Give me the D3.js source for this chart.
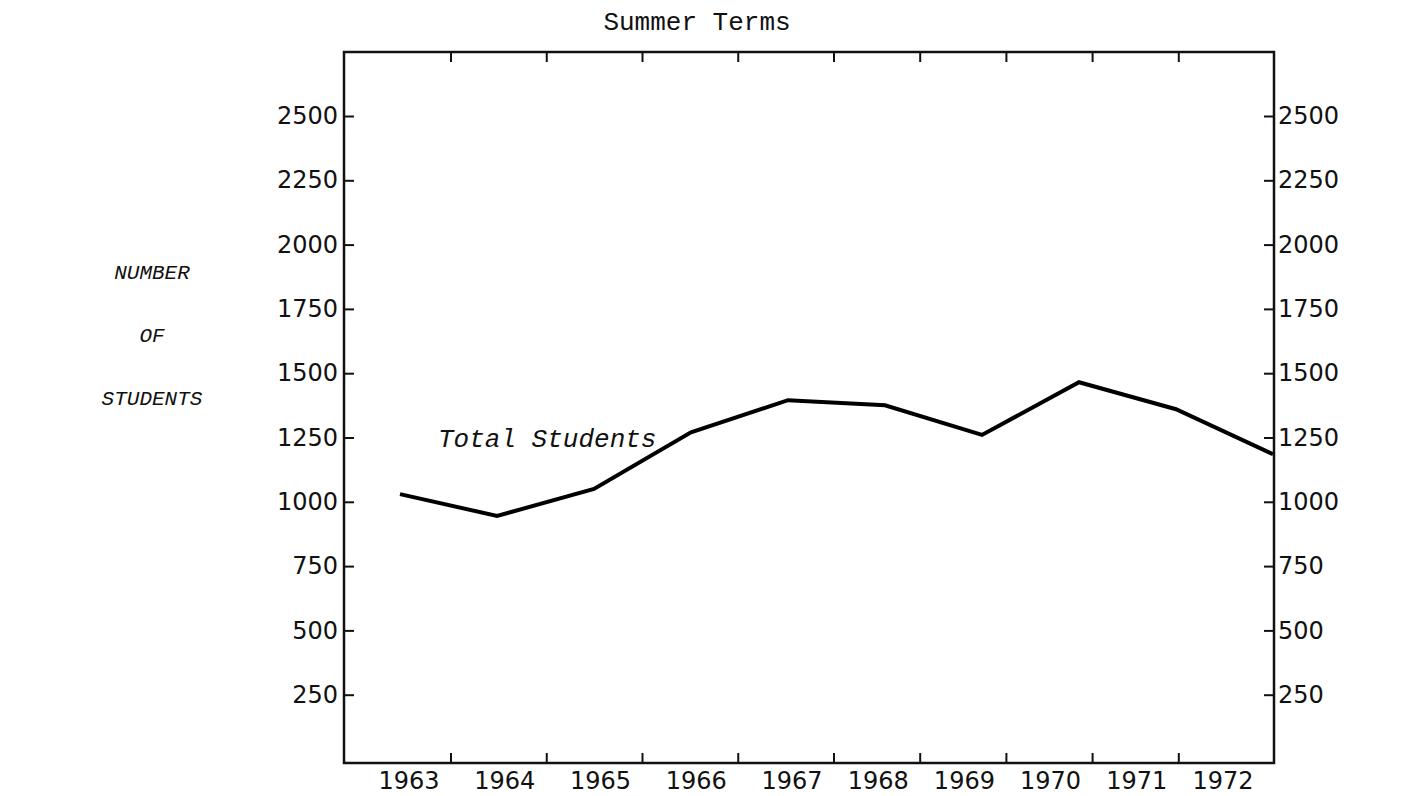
<!DOCTYPE html>
<html>
<head>
<meta charset="utf-8">
<script src="https://cdn.jsdelivr.net/npm/d3@7"></script>
<style>
  html, body { margin: 0; padding: 0; background: #fff; }
  svg { display: block; }
  .tick-label { font-family: "DejaVu Sans", sans-serif; font-size: 24px; fill: #111; }
  .mono { font-family: "Liberation Mono", "DejaVu Sans Mono", monospace; fill: #111; }
</style>
</head>
<body>
<svg id="chart" width="1419" height="796"></svg>
<script>
// ---- data ----
const years = [1963, 1964, 1965, 1966, 1967, 1968, 1969, 1970, 1971, 1972];
const totalStudents = [1030, 945, 1050, 1270, 1395, 1375, 1260, 1465, 1360, 1185];
const yTickValues = [250, 500, 750, 1000, 1250, 1500, 1750, 2000, 2250, 2500];
const yAxisLabel = ["NUMBER", "OF", "STUDENTS"];
const title = "Summer Terms";
const seriesLabel = "Total Students";

// ---- layout ----
const frame = { left: 344, right: 1274, top: 52, bottom: 763 };
const svg = d3.select("#chart");

// typed year labels are a little uneven, so a piecewise scale for them;
// the plotted line runs evenly across the frame
const xLabel = d3.scaleLinear().domain([1963, 1967, 1972]).range([409, 792, 1223]);
const xLine = d3.scaleLinear().domain([1963, 1972]).range([400, 1273]);
const y = d3.scaleLinear().domain([0, 2500]).range([759, 116]);
const tickOffset = 42;

// frame
svg.append("rect")
    .attr("x", frame.left).attr("y", frame.top)
    .attr("width", frame.right - frame.left)
    .attr("height", frame.bottom - frame.top)
    .attr("fill", "none")
    .attr("stroke", "#111")
    .attr("stroke-width", 2.5);

// left / right value axes, ticks pointing inward
const fmt = d3.format("d");
const leftAxis = svg.append("g")
    .attr("transform", `translate(${frame.left},0)`)
    .call(d3.axisLeft(y).tickValues(yTickValues).tickFormat(fmt).tickSize(-10).tickPadding(6));
const rightAxis = svg.append("g")
    .attr("transform", `translate(${frame.right},0)`)
    .call(d3.axisRight(y).tickValues(yTickValues).tickFormat(fmt).tickSize(-10).tickPadding(4));

[leftAxis, rightAxis].forEach(g => {
    g.select(".domain").remove();
    g.attr("font-family", null).attr("font-size", null);
    g.selectAll(".tick line").attr("stroke", "#111").attr("stroke-width", 2);
    g.selectAll(".tick text").attr("class", "tick-label").attr("fill", null);
});

// year boundary ticks, top and bottom edges
const boundaries = years.slice(0, -1);
[[frame.bottom, -10], [frame.top, 10]].forEach(([edge, len]) => {
    svg.append("g").selectAll("line")
        .data(boundaries)
        .join("line")
        .attr("x1", d => xLabel(d) + tickOffset).attr("x2", d => xLabel(d) + tickOffset)
        .attr("y1", edge).attr("y2", edge + len)
        .attr("stroke", "#111").attr("stroke-width", 2);
});

// year labels
svg.append("g").selectAll("text")
    .data(years)
    .join("text")
    .attr("class", "tick-label")
    .attr("x", d => xLabel(d))
    .attr("y", 789)
    .attr("text-anchor", "middle")
    .text(d => d);

// title
svg.append("text")
    .attr("class", "mono")
    .attr("x", 697).attr("y", 30)
    .attr("text-anchor", "middle")
    .attr("font-size", 26)
    .text(title);

// y-axis label, stacked words
svg.append("g").selectAll("text")
    .data(yAxisLabel)
    .join("text")
    .attr("class", "mono")
    .attr("font-style", "italic")
    .attr("font-size", 21)
    .attr("x", 152)
    .attr("y", (d, i) => 279 + i * 63)
    .attr("text-anchor", "middle")
    .text(d => d);

// the line
const line = d3.line()
    .x((d, i) => xLine(years[i]))
    .y(d => y(d));

svg.append("path")
    .datum(totalStudents)
    .attr("d", line)
    .attr("fill", "none")
    .attr("stroke", "#000")
    .attr("stroke-width", 4)
    .attr("stroke-linejoin", "miter");

// series label
svg.append("text")
    .attr("class", "mono")
    .attr("font-style", "italic")
    .attr("font-size", 26)
    .attr("x", 438).attr("y", 447)
    .text(seriesLabel);
</script>
</body>
</html>
